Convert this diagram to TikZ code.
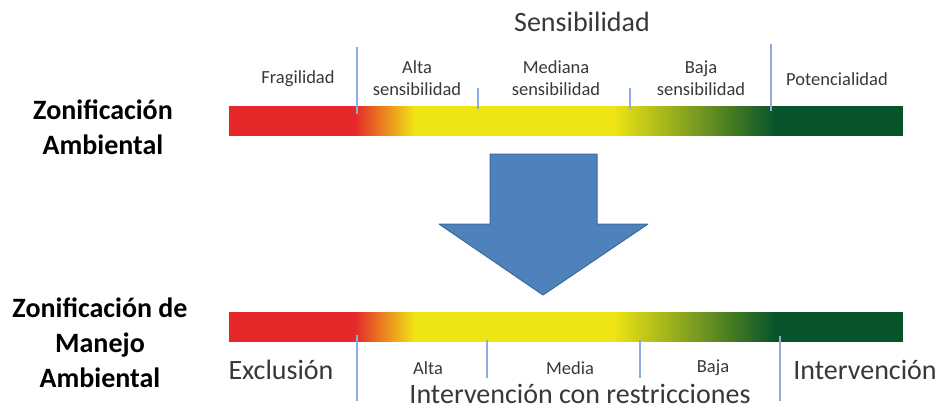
\documentclass[tikz,border=0pt]{standalone}
\usepackage{fontspec}
\setmainfont{Carlito}
\definecolor{zred}{HTML}{E5292A}
\definecolor{zyel}{HTML}{F0E514}
\definecolor{zgrn}{HTML}{07542A}
\definecolor{zline}{HTML}{8FAADC}
\definecolor{zarrow}{HTML}{4F81BD}
\definecolor{zarrowb}{HTML}{3C6A9E}
\definecolor{ztext}{HTML}{383838}
\tikzset{
  small/.style={font=\fontsize{18.5}{22.5}\selectfont, align=center, inner sep=0pt, text=ztext},
  big/.style={font=\fontsize{28}{33}\selectfont, align=center, inner sep=0pt, text=ztext},
  title/.style={font=\fontsize{28}{35}\selectfont\bfseries, align=center, inner sep=0pt},
  divider/.style={draw=zline, line width=1.2pt},
  barnode/.style={inner sep=0pt, minimum width=674pt, minimum height=30pt},
}
\begin{document}
\begin{tikzpicture}[x=1pt,y=-1pt]
\useasboundingbox (0,0) rectangle (939,412);
% bars
\foreach \y/\n in {121/topbar, 327/botbar}{
  \node[barnode] (\n) at (566,\y) {};
  \fill[zred] (229,\y-15) rectangle (356,\y+15);
  \foreach \k in {0,...,60}{
    \pgfmathtruncatemacro\p{100-\k*100/60}
    \fill[zred!\p!zyel] (355+\k,\y-15) rectangle (356.6+\k,\y+15);
  }
  \fill[zyel] (415,\y-15) rectangle (614,\y+15);
  \foreach \k in {0,...,163}{
    \pgfmathtruncatemacro\p{100-\k*100/163}
    \fill[zyel!\p!zgrn] (613+\k,\y-15) rectangle (614.6+\k,\y+15);
  }
  \fill[zgrn] (776,\y-15) rectangle (903,\y+15);
}
% top labels
\node[big] (sens) at (582,22) {Sensibilidad};
\node[small] (frag) at (298,79) {Fragilidad};
\node[small] (alta) at (417,78) {Alta\\sensibilidad};
\node[small] (med) at (556,78) {Mediana\\sensibilidad};
\node[small] (baja) at (701,78) {Baja\\sensibilidad};
\node[small] (pot) at (837,79) {Potencialidad};
% top dividers
\coordinate (t1a) at (357,47); \coordinate (t1b) at (357,114);
\coordinate (t2a) at (478,88); \coordinate (t2b) at (478,109);
\coordinate (t3a) at (630,88); \coordinate (t3b) at (630,109);
\coordinate (t4a) at (771,44); \coordinate (t4b) at (771,111);
\foreach \i in {1,2,3,4}{\draw[divider] (t\i a) -- (t\i b);}
% left titles
\node[title] (za) at (103,127) {Zonificación\\Ambiental};
\node[title] (zma) at (100,343) {Zonificación de\\Manejo\\Ambiental};
% arrow
\node[inner sep=0pt] (arr) at (543,225) {};
\draw[fill=zarrow, draw=zarrowb, line width=1pt, line join=round]
  (490,154) -- (597,154) -- (597,224) -- (648,224) -- (543,295) -- (439,224) -- (490,224) -- cycle;
% bottom labels
\node[big] (excl) at (281,370) {Exclusión};
\node[small] (balta) at (428,368) {Alta};
\node[small] (bmed) at (570,368) {Media};
\node[small] (bbaja) at (713,368) {Baja};
\node[big] (interv) at (865,370) {Intervención};
\node[big, anchor=base] (ires) at (580,403.5) {Intervención con restricciones};
% bottom dividers
\coordinate (b1a) at (357,335); \coordinate (b1b) at (357,401);
\coordinate (b2a) at (487,340); \coordinate (b2b) at (487,378);
\coordinate (b3a) at (640,340); \coordinate (b3b) at (640,378);
\coordinate (b4a) at (780,336); \coordinate (b4b) at (780,401);
\foreach \i in {1,2,3,4}{\draw[divider] (b\i a) -- (b\i b);}
\end{tikzpicture}
\end{document}
